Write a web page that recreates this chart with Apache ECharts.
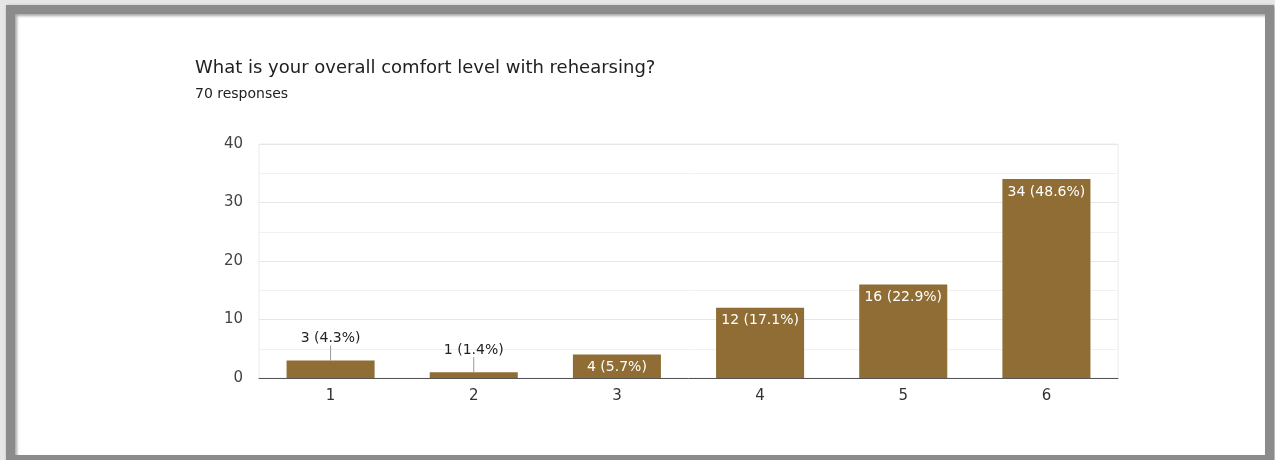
<!DOCTYPE html>
<html>
<head>
<meta charset="utf-8">
<script src="https://cdn.jsdelivr.net/npm/echarts@6/dist/echarts.min.js"></script>
<style>
html,body{margin:0;padding:0;width:1275px;height:460px;overflow:hidden;background:#e6e6e6;}
#frame{position:absolute;left:6px;top:5px;width:1250px;height:441px;border:9px solid #8b8b8b;background:#fff;box-shadow:inset 2px 2px 3px rgba(0,0,0,0.35), 1px 1px 3px rgba(0,0,0,0.3);}
#chart{position:absolute;left:0;top:0;width:1275px;height:460px;}
</style>
</head>
<body>
<div id="frame"></div>
<div id="chart"></div>
<script>
const titleText = "What is your overall comfort level with rehearsing?";
const subtitleText = "70 responses";
const categories = ["1", "2", "3", "4", "5", "6"];
const counts = [3, 1, 4, 12, 16, 34];
const percents = ["4.3%", "1.4%", "5.7%", "17.1%", "22.9%", "48.6%"];
const outsideLabel = [true, true, false, false, false, false];

const FONT = 'DejaVu Sans';
const chart = echarts.init(document.getElementById('chart'), null, {renderer: 'canvas'});
const barColor = '#8f6d35';
const data = counts.map((v, i) => {
  const item = {value: v};
  if (outsideLabel[i]) {
    item.label = {position: 'top', distance: 15, color: '#222'};
  }
  return item;
});
chart.setOption({
  animation: false,
  title: {
    text: titleText,
    subtext: subtitleText,
    left: 190,
    top: 54,
    itemGap: 10,
    textStyle: {fontFamily: FONT, fontSize: 18, fontWeight: 'normal', color: '#202124'},
    subtextStyle: {fontFamily: FONT, fontSize: 14, color: '#202124'}
  },
  grid: {left: 259, right: 157, top: 144, bottom: 82, show: true, borderColor: '#ececec', borderWidth: 1},
  xAxis: {
    type: 'category',
    data: categories,
    axisTick: {show: false},
    axisLine: {lineStyle: {color: '#555', width: 1}},
    axisLabel: {fontFamily: FONT, fontSize: 15, color: '#333', margin: 11}
  },
  yAxis: {
    type: 'value',
    min: 0, max: 40, interval: 10,
    axisLabel: {fontFamily: FONT, fontSize: 15, color: '#444', margin: 16},
    splitLine: {lineStyle: {color: '#e6e6e6'}},
    minorTick: {show: false, splitNumber: 2},
    minorSplitLine: {show: true, lineStyle: {color: '#f1f1f1'}}
  },
  series: [{
    type: 'bar',
    data: data,
    barWidth: '61.5%',
    itemStyle: {color: barColor},
    label: {
      show: true,
      position: 'insideTop',
      distance: 6,
      fontFamily: FONT,
      fontSize: 14,
      color: '#fff',
      formatter: p => p.value + ' (' + percents[p.dataIndex] + ')'
    },
    labelLine: {show: true, lineStyle: {color: '#999', width: 1}},
    labelLayout: p => ({})
  }]
});
</script>
</body>
</html>
